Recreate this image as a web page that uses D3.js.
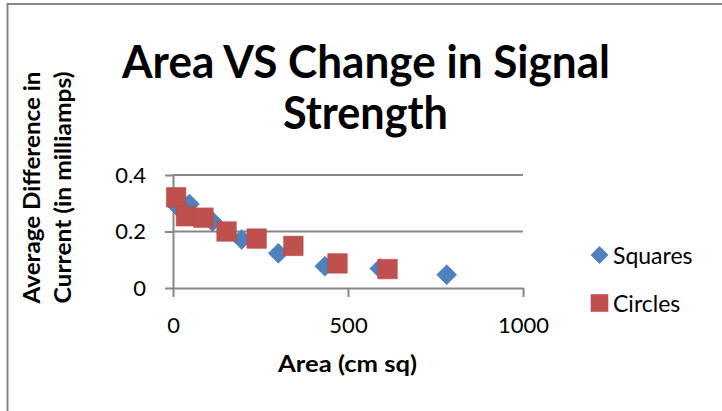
<!DOCTYPE html>
<html>
<head>
<meta charset="utf-8">
<script src="https://cdn.jsdelivr.net/npm/d3@7"></script>
<style>
  body { margin: 0; background: #fff; }
  svg text { font-family: Lato, "Open Sans", sans-serif; fill: #000; }
</style>
</head>
<body>
<div id="chart"></div>
<script>
// data
const squaresArea = [14, 47, 113, 196, 301, 434, 591, 782];
const squaresCurrent = [0.287, 0.297, 0.235, 0.172, 0.123, 0.077, 0.069, 0.047];
const circlesArea = [9, 37, 87, 153, 239, 344, 470, 613];
const circlesCurrent = [0.321, 0.254, 0.249, 0.200, 0.175, 0.149, 0.087, 0.067];
const xTicks = [0, 500, 1000];
const yTicks = [0, 0.2, 0.4];
const seriesNames = ["Squares", "Circles"];

const W = 722, H = 411;
const margin = { top: 175, right: 199, bottom: 123, left: 173 };
const width = W - margin.left - margin.right;
const height = H - margin.top - margin.bottom;
const gray = "#878787";
const blue = "#4F81BD", red = "#C0504D";

const svg = d3.select("#chart").append("svg")
    .attr("width", W)
    .attr("height", H);

// chart frame (only top and left edges are visible in the crop)
svg.append("rect")
    .attr("x", 7.5).attr("y", 4)
    .attr("width", 800).attr("height", 600)
    .attr("fill", "none")
    .attr("stroke", gray)
    .attr("stroke-width", 2);

// title
const title = svg.append("g").attr("font-weight", "bold").attr("font-size", 46).attr("text-anchor", "middle");
title.append("text").attr("x", 366).attr("y", 78)
    .attr("textLength", 488).attr("lengthAdjust", "spacingAndGlyphs")
    .text("Area VS Change in Signal");
title.append("text").attr("x", 365.5).attr("y", 129)
    .attr("textLength", 165).attr("lengthAdjust", "spacingAndGlyphs")
    .text("Strength");

const x = d3.scaleLinear().domain([0, 1000]).range([0, width]);
const y = d3.scaleLinear().domain([0, 0.4]).range([height, 0]);

const g = svg.append("g")
    .attr("transform", `translate(${margin.left},${margin.top})`);

// gridlines
g.append("g")
    .selectAll("line")
    .data(yTicks.filter(d => d > 0))
    .join("line")
    .attr("x1", 0).attr("x2", width)
    .attr("y1", d => y(d)).attr("y2", d => y(d))
    .attr("stroke", gray).attr("stroke-width", 2);

// axes
const yAxis = g.append("g")
    .call(d3.axisLeft(y).tickValues(yTicks).tickSize(8).tickSizeOuter(0).tickPadding(19)
        .tickFormat(d => d === 0 ? "0" : d3.format(".1f")(d)));
const xAxis = g.append("g")
    .attr("transform", `translate(0,${height})`)
    .call(d3.axisBottom(x).tickValues(xTicks).tickSize(9).tickSizeOuter(0).tickPadding(20)
        .tickFormat(d3.format("d")));

[xAxis, yAxis].forEach(a => {
    a.selectAll("path, line").attr("stroke", gray).attr("stroke-width", 2);
    a.selectAll("text").attr("font-size", 22).attr("font-family", "Lato, sans-serif").attr("fill", "#000");
});

// axis titles
svg.append("text")
    .attr("x", 347.5).attr("y", 371.5)
    .attr("text-anchor", "middle")
    .attr("font-weight", "bold").attr("font-size", 22)
    .attr("textLength", 139).attr("lengthAdjust", "spacingAndGlyphs")
    .text("Area (cm sq)");

const yTitle = ["Average  Difference in", "Current (in milliamps)"];
const yTitleX = [40, 71];
yTitle.forEach((t, i) => {
    svg.append("text")
        .attr("transform", `translate(${yTitleX[i]},187.5) rotate(-90)`)
        .attr("text-anchor", "middle")
        .attr("font-weight", "bold").attr("font-size", 22)
        .attr("textLength", 232).attr("lengthAdjust", "spacingAndGlyphs")
        .text(t);
});

// points
const squares = squaresArea.map((a, i) => ({ x: a, y: squaresCurrent[i] }));
const circles = circlesArea.map((a, i) => ({ x: a, y: circlesCurrent[i] }));

const diamond = d3.symbol(d3.symbolSquare, 200);
const box = d3.symbol(d3.symbolSquare, 380);

g.append("g").selectAll("path")
    .data(squares)
    .join("path")
    .attr("d", diamond)
    .attr("transform", d => `translate(${x(d.x)},${y(d.y)}) rotate(45)`)
    .attr("fill", blue)
    .attr("stroke", "#4a7ab4").attr("stroke-width", 0.6);

g.append("g").selectAll("path")
    .data(circles)
    .join("path")
    .attr("d", box)
    .attr("transform", d => `translate(${x(d.x)},${y(d.y)})`)
    .attr("fill", red)
    .attr("stroke", "#b54b48").attr("stroke-width", 0.6);

// legend
const legend = svg.append("g");
const legendY = [255, 303];
legend.selectAll("path")
    .data(seriesNames)
    .join("path")
    .attr("d", (d, i) => i === 0 ? d3.symbol(d3.symbolSquare, 162)() : d3.symbol(d3.symbolSquare, 310)())
    .attr("transform", (d, i) => `translate(599.5,${legendY[i]}) rotate(${i === 0 ? 45 : 0})`)
    .attr("fill", (d, i) => i === 0 ? blue : red);
legend.selectAll("text")
    .data(seriesNames)
    .join("text")
    .attr("x", 613)
    .attr("y", (d, i) => legendY[i] + 8.5)
    .attr("font-size", 23)
    .text(d => d);
</script>
</body>
</html>
